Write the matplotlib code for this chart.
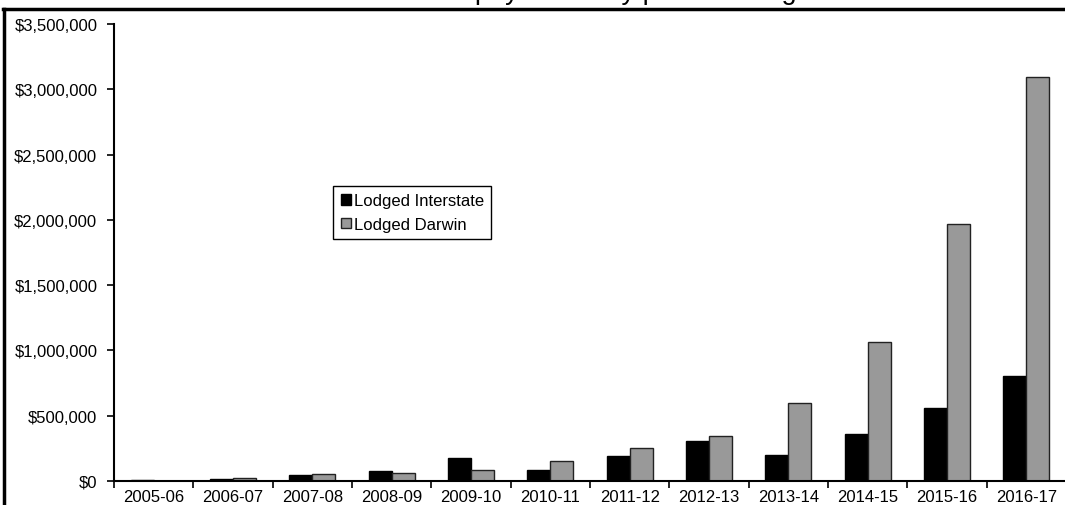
import matplotlib.pyplot as plt
from matplotlib.lines import Line2D
from matplotlib.ticker import FuncFormatter
import numpy as np

plt.rcParams['font.family'] = ['Liberation Sans', 'DejaVu Sans']

years = ['2005-06', '2006-07', '2007-08', '2008-09', '2009-10', '2010-11',
         '2011-12', '2012-13', '2013-14', '2014-15', '2015-16', '2016-17']
interstate = [5000, 15000, 47000, 77000, 176000, 84000,
              194000, 304000, 199000, 357000, 559000, 804000]
darwin = [3000, 24000, 53000, 60000, 84000, 153000,
          250000, 342000, 595000, 1067000, 1967000, 3097000]
title = 'Total payroll tax by place of lodgement'

W, H = 1065, 506
fig = plt.figure(figsize=(W / 100, H / 100), dpi=100)
ax = fig.add_axes([114 / W, (H - 482) / H, (1066 - 114) / W, (482 - 25) / H])

x = np.arange(len(years))
w = 0.29
ax.bar(x - w / 2, interstate, w, color='black', edgecolor='black', linewidth=1,
       label='Lodged Interstate')
ax.bar(x + w / 2, darwin, w, color='#999999', edgecolor='#222222', linewidth=1,
       label='Lodged Darwin')

ax.set_xlim(-0.5, len(years) - 0.5)
ax.set_ylim(0, 3500000)
ax.set_yticks(np.arange(0, 3500001, 500000))
ax.yaxis.set_major_formatter(FuncFormatter(lambda v, p: '${:,.0f}'.format(v)))
ax.set_xticks(x)
ax.set_xticklabels(years)
ax.set_xticks(np.arange(-0.5, len(years)), minor=True)
ax.tick_params(axis='x', which='major', length=0, pad=6, labelsize=12)
ax.tick_params(axis='x', which='minor', length=5, width=1.2, direction='out')
ax.tick_params(axis='y', length=5, width=1.2, pad=7, labelsize=12)

for s in ['top', 'right']:
    ax.spines[s].set_visible(False)
for s in ['left', 'bottom']:
    ax.spines[s].set_linewidth(1.5)

leg = ax.legend(loc='upper left', bbox_to_anchor=(333 / W, 1 - 187 / H),
                bbox_transform=fig.transFigure, borderaxespad=0,
                fancybox=False, edgecolor='black', framealpha=1,
                handlelength=0.6, handleheight=0.6, handletextpad=0.2,
                borderpad=0.45, labelspacing=0.5, fontsize=12)
leg.get_frame().set_linewidth(1)

# chart frame (partly cut off in the screenshot)
fig.add_artist(Line2D([3 / W, 1], [1 - 10 / H, 1 - 10 / H], color='black',
                      linewidth=2.5, transform=fig.transFigure))
fig.add_artist(Line2D([4 / W, 4 / W], [0, 1 - 10 / H], color='black',
                      linewidth=2.5, transform=fig.transFigure))

fig.text(410 / W, 1 + 1 / H, title, ha='left', va='baseline', fontsize=19.5)

fig.savefig('out.png', dpi=100)
